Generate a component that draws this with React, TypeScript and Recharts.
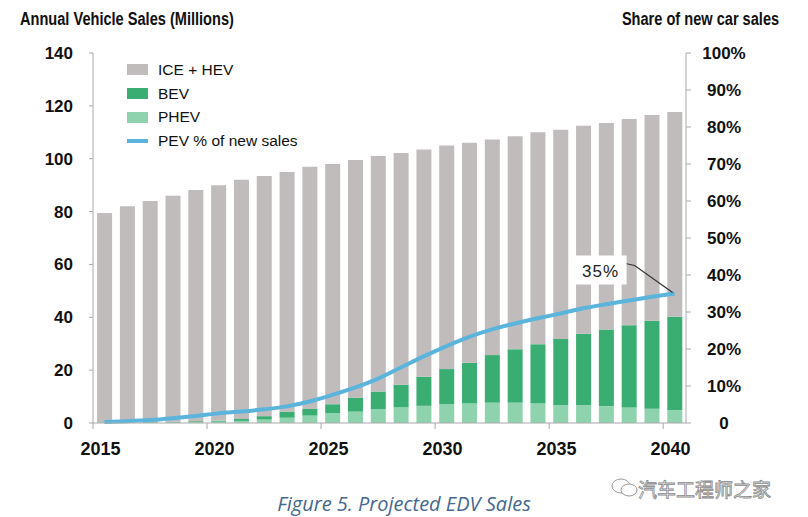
import React from "react";
import { ComposedChart, Bar, Line, XAxis, YAxis, LabelList } from "recharts";

const years = [
  2015, 2016, 2017, 2018, 2019, 2020, 2021, 2022, 2023, 2024, 2025, 2026, 2027,
  2028, 2029, 2030, 2031, 2032, 2033, 2034, 2035, 2036, 2037, 2038, 2039, 2040,
];

const totalSales = [
  79.5, 82, 84, 86, 88.2, 90, 92, 93.5, 95, 97, 98, 99.5, 101, 102.2, 103.5,
  105, 106, 107.3, 108.5, 110, 111, 112.5, 113.5, 115, 116.5, 117.7,
];

const bevSales = [
  0.1, 0.1, 0.2, 0.2, 0.3, 0.4, 0.7, 1.3, 2.3, 2.5, 3.4, 5.3, 6.7, 8.6, 11.0,
  13.3, 15.4, 18.0, 20.2, 22.4, 25.0, 27.0, 29.0, 31.1, 33.3, 35.3,
];

const phevSales = [
  0.1, 0.2, 0.2, 0.3, 0.4, 0.5, 0.8, 1.3, 2.0, 2.8, 3.7, 4.3, 5.2, 5.9, 6.5,
  7.1, 7.4, 7.7, 7.7, 7.4, 6.8, 6.8, 6.4, 5.9, 5.4, 4.9,
];

const pevShare = [
  0.3, 0.5, 0.8, 1.3, 1.9, 2.6, 3.1, 3.7, 4.5, 5.8, 7.6, 9.6, 12.0, 15.0, 18.0,
  20.8, 23.3, 25.3, 26.9, 28.3, 29.6, 31.0, 32.1, 33.1, 34.1, 35.0,
];

const leftTicks = [0, 20, 40, 60, 80, 100, 120, 140];
const rightTicks = [0, 10, 20, 30, 40, 50, 60, 70, 80, 90, 100];

const data = years.map((year, i) => ({
  year,
  phev: phevSales[i],
  bev: bevSales[i],
  ice: +(totalSales[i] - bevSales[i] - phevSales[i]).toFixed(2),
  share: pevShare[i],
}));

const W = 808;
const H = 517;
const PLOT_LEFT = 93;
const PLOT_RIGHT = 686;
const PLOT_TOP = 53;
const PLOT_BOTTOM = 423;
const AXIS_W = 60;
const XAXIS_H = 40;
const BAND = (PLOT_RIGHT - PLOT_LEFT) / years.length;

const GRAY = "#c0bcbc";
const BEV = "#3aad73";
const PHEV = "#8fd3ae";
const BLUE = "#5ab4dc";
const AXIS = "#a9a9a9";

const sans = "'Liberation Sans', Arial, sans-serif";

function LeftTick(props: any) {
  const { x, y, payload } = props;
  return (
    <g>
      <line x1={x - 4} x2={x} y1={y} y2={y} stroke={AXIS} />
      <text
        x={x - 20}
        y={y}
        dy={6}
        textAnchor="end"
        fontFamily={sans}
        fontWeight="bold"
        fontSize={17}
        fill="#111"
      >
        {payload.value}
      </text>
    </g>
  );
}

function RightTick(props: any) {
  const { x, y, payload } = props;
  return (
    <g>
      <line x1={x} x2={x + 5} y1={y} y2={y} stroke={AXIS} />
      <text
        x={x + 38}
        y={y}
        dy={6}
        textAnchor="middle"
        fontFamily={sans}
        fontWeight="bold"
        fontSize={17}
        fill="#111"
      >
        {payload.value === 0 ? "0" : `${payload.value}%`}
      </text>
    </g>
  );
}

function YearTick(props: any) {
  const { x, y, payload } = props;
  if (payload.value % 5 !== 0) return null;
  const edge = x - BAND / 2;
  return (
    <g>
      <line x1={edge} x2={edge} y1={y} y2={y + 6} stroke={AXIS} />
      <text
        x={x - 4}
        y={y + 32}
        textAnchor="middle"
        fontFamily={sans}
        fontWeight="bold"
        fontSize={18}
        fill="#111"
      >
        {payload.value}
      </text>
    </g>
  );
}

function ShareCallout(props: any) {
  const { x, y, index } = props;
  if (index !== years.length - 1) return null;
  return (
    <g>
      <path
        d={`M ${x - 49} ${y - 30} L ${x - 40} ${y - 28} L ${x - 2} ${y - 1}`}
        fill="none"
        stroke="#333"
        strokeWidth={1.2}
      />
      <rect x={x - 100} y={y - 38} width={52} height={29} fill="#fff" />
      <text
        x={x - 74}
        y={y - 17}
        textAnchor="middle"
        fontFamily={sans}
        fontSize={17}
        letterSpacing={1}
        fill="#222"
      >
        {`${Math.round(pevShare[index])}%`}
      </text>
    </g>
  );
}

const legendItems = [
  { label: "ICE + HEV", color: GRAY, kind: "bar" },
  { label: "BEV", color: BEV, kind: "bar" },
  { label: "PHEV", color: PHEV, kind: "bar" },
  { label: "PEV % of new sales", color: BLUE, kind: "line" },
];

function LegendBox() {
  return (
    <div
      style={{
        position: "absolute",
        left: 127,
        top: 58,
        fontFamily: sans,
      }}
    >
      {legendItems.map((item) => (
        <div
          key={item.label}
          style={{
            display: "flex",
            alignItems: "center",
            height: 23.7,
            fontSize: 15.5,
            color: "#111",
          }}
        >
          <span
            style={{
              display: "inline-block",
              width: 21,
              height: item.kind === "bar" ? 11 : 4,
              background: item.color,
              marginRight: 10,
            }}
          />
          {item.label}
        </div>
      ))}
    </div>
  );
}

const titleStyle: React.CSSProperties = {
  position: "absolute",
  top: 9,
  fontFamily: sans,
  fontSize: 18,
  fontWeight: "bold",
  color: "#111",
  whiteSpace: "nowrap",
  transform: "scaleX(0.81)",
};

export default function App() {
  return (
    <div
      style={{
        position: "absolute",
        left: 0,
        top: 0,
        width: W,
        height: H,
        background: "#fff",
        overflow: "hidden",
      }}
    >
      <div style={{ ...titleStyle, left: 20, transformOrigin: "left center" }}>
        Annual Vehicle Sales (Millions)
      </div>
      <div style={{ ...titleStyle, right: 29, transformOrigin: "right center" }}>
        Share of new car sales
      </div>

      <ComposedChart
        width={W}
        height={H}
        data={data}
        barCategoryGap="18%"
        margin={{
          top: PLOT_TOP,
          bottom: H - PLOT_BOTTOM - XAXIS_H,
          left: PLOT_LEFT - AXIS_W,
          right: W - PLOT_RIGHT - AXIS_W,
        }}
      >
        <XAxis
          dataKey="year"
          height={XAXIS_H}
          interval={0}
          tick={<YearTick />}
          tickLine={false}
          tickSize={0}
          tickMargin={0}
          axisLine={{ stroke: AXIS }}
        />
        <YAxis
          yAxisId="left"
          width={AXIS_W}
          domain={[0, 140]}
          ticks={leftTicks}
          tick={<LeftTick />}
          tickLine={false}
          axisLine={{ stroke: AXIS }}
          tickMargin={0}
          tickSize={0}
        />
        <YAxis
          yAxisId="right"
          orientation="right"
          width={AXIS_W}
          domain={[0, 100]}
          ticks={rightTicks}
          tick={<RightTick />}
          tickLine={false}
          axisLine={{ stroke: AXIS }}
          tickMargin={0}
          tickSize={0}
        />
        <Bar
          yAxisId="left"
          dataKey="phev"
          stackId="s"
          fill={PHEV}
          isAnimationActive={false}
        />
        <Bar
          yAxisId="left"
          dataKey="bev"
          stackId="s"
          fill={BEV}
          isAnimationActive={false}
        />
        <Bar
          yAxisId="left"
          dataKey="ice"
          stackId="s"
          fill={GRAY}
          isAnimationActive={false}
        />
        <Line
          yAxisId="right"
          type="monotone"
          dataKey="share"
          stroke={BLUE}
          strokeWidth={4}
          dot={false}
          isAnimationActive={false}
        >
          <LabelList dataKey="share" content={<ShareCallout />} />
        </Line>
      </ComposedChart>

      <LegendBox />

      <div
        style={{
          position: "absolute",
          left: 0,
          width: W,
          top: 490,
          textAlign: "center",
          fontFamily: "'Open Sans', 'Liberation Sans', sans-serif",
          fontStyle: "italic",
          fontSize: 20,
          color: "#44688f",
        }}
      >
        Figure 5. Projected EDV Sales
      </div>
      <svg
        width={30}
        height={22}
        style={{ position: "absolute", left: 610, top: 477 }}
      >
        <ellipse cx={11} cy={9} rx={9} ry={7} fill="#fff" stroke="#999" />
        <ellipse cx={19} cy={13} rx={8} ry={6} fill="#fff" stroke="#999" />
      </svg>
      <div
        style={{
          position: "absolute",
          left: 638,
          top: 475,
          fontFamily: "'Noto Sans CJK SC', sans-serif",
          fontSize: 19,
          color: "#fff",
          WebkitTextStroke: "0.8px #888",
          whiteSpace: "nowrap",
        }}
      >
        汽车工程师之家
      </div>
    </div>
  );
}
